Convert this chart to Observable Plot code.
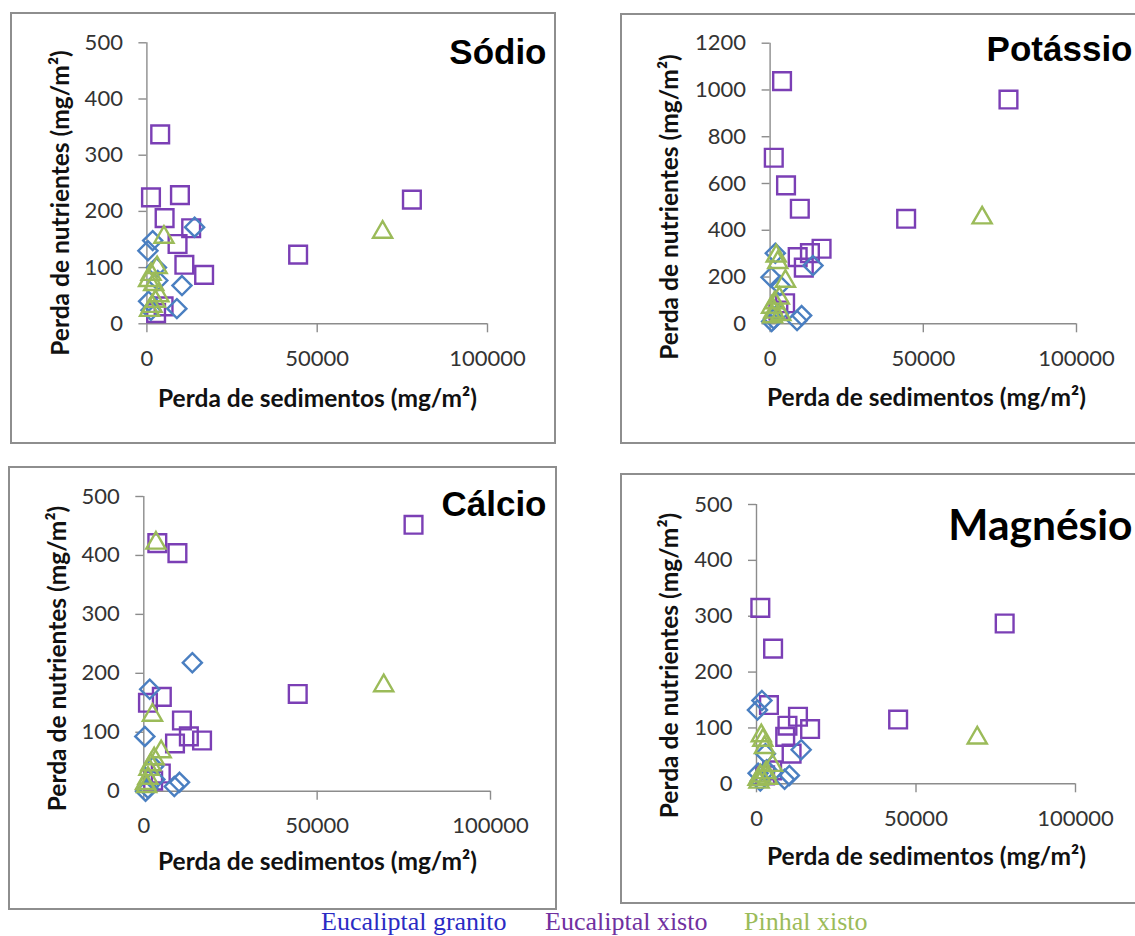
<!DOCTYPE html>
<html><head><meta charset="utf-8">
<script src="https://cdn.jsdelivr.net/npm/d3@7"></script>
<script src="https://cdn.jsdelivr.net/npm/@observablehq/plot@0.6"></script>
<style>
html,body{margin:0;padding:0;background:#fff;}
body{width:1135px;height:936px;overflow:hidden;position:relative;font-family:Lato,sans-serif}
.panel{position:absolute}
.panel svg{position:absolute;left:0;top:0;overflow:visible}
.frame{position:absolute;left:0;top:0;width:100%;height:100%;box-sizing:border-box;border:2px solid #8e8e8e;pointer-events:none}
.legend{position:absolute;font-family:"Liberation Serif","Times New Roman",serif;font-size:26px;line-height:26px;white-space:nowrap}
</style></head><body>
<script>
// ---- Data ----
const seriesNames = ["Eucaliptal granito", "Eucaliptal xisto", "Pinhal xisto"];
const seriesColors = ["#4a7fc1", "#7b3fb5", "#9bbb59"];
const legendColors = ["#2b2bc4", "#7030a0", "#9bbb59"];

// Sediment loss (mg/m²) per series
const sedGranito  = [300, 500, 1200, 1700, 2800, 3200, 8800, 10300, 14000];
const sedEucXisto = [1200, 2700, 3900, 4900, 5200, 9000, 9700, 11000, 13000, 16800, 44400, 77800];
const sedPinhal   = [500, 800, 1200, 1500, 2000, 2500, 3000, 3500, 5000, 69200];

// Nutrient loss (mg/m²)
const sodioGranito  = [130, 40, 24, 148, 100, 77, 27, 68, 172];
const sodioEucXisto = [225, 19, 337, 31, 188, 142, 229, 105, 170, 87, 123, 221];
const sodioPinhal   = [77, 24, 88, 31, 70, 40, 100, 50, 154, 163];

const potassioGranito  = [199, 10, 20, 302, 45, 164, 14, 35, 249];
const potassioEucXisto = [710, 57, 1038, 88, 592, 285, 492, 240, 302, 321, 449, 959];
const potassioPinhal   = [71, 30, 50, 90, 290, 262, 110, 40, 182, 453];

const calcioGranito  = [93, 0, 5, 173, 42, 20, 8, 15, 218];
const calcioEucXisto = [150, 18, 421, 30, 160, 81, 404, 120, 93, 86, 165, 452];
const calcioPinhal   = [13, 8, 22, 37, 45, 129, 55, 421, 67, 179];

const magnesioGranito  = [132, 19, 5, 149, 54, 25, 8, 15, 61];
const magnesioEucXisto = [315, 15, 141, 24, 242, 84, 104, 54, 120, 98, 115, 287];
const magnesioPinhal   = [8, 3, 14, 86, 78, 65, 20, 10, 33, 82];

const xTicks = [0, 50000, 100000];
const yTicks500 = [0, 100, 200, 300, 400, 500];
const yTicks1200 = [0, 200, 400, 600, 800, 1000, 1200];
const xLabel = "Perda de sedimentos (mg/m²)";
const yLabel = "Perda de nutrientes (mg/m²)";

// ---- Build ----
const axisColor = "#8c8c8c";
const tickColor = "#333333";
const zip = (xs, ys) => xs.map((x, i) => ({x, y: ys[i]}));

function panel(cfg) {
  const {left, top, width, height, axisX, x100, y0, yTop} = cfg;
  const mL = axisX - left, mR = left + width - x100, mT = yTop - top, mB = top + height - y0;
  const ox = axisX, oy = yTop;
  const [gr, ex, px] = cfg.values;
  const marks = [
    Plot.ruleX([0], {stroke: axisColor, strokeWidth: 1.4}),
    Plot.ruleY([0], {stroke: axisColor, strokeWidth: 1.4}),
    Plot.axisX({ticks: xTicks, tickFormat: d => String(d), tickSize: 9, tickPadding: 17.5,
      stroke: axisColor, strokeWidth: 1.4, fill: tickColor, label: null}),
    Plot.axisY({ticks: cfg.yTicks, tickFormat: d => String(d), tickSize: 8, tickPadding: 16,
      stroke: axisColor, strokeWidth: 1.4, fill: tickColor, label: null}),
    Plot.dot(zip(sedEucXisto, ex), {x: "x", y: "y", symbol: "square", r: 10, fill: "none", stroke: seriesColors[1], strokeWidth: 2.4}),
    Plot.dot(zip(sedGranito, gr), {x: "x", y: "y", symbol: "diamond2", r: 8.6, fill: "none", stroke: seriesColors[0], strokeWidth: 2.4}),
    Plot.dot(zip(sedPinhal, px), {x: "x", y: "y", symbol: "triangle", r: 7.1, fill: "none", stroke: seriesColors[2], strokeWidth: 2.4}),
    Plot.text([cfg.title.text], {text: d => d, frameAnchor: "top-left", dx: cfg.title.x - ox, dy: cfg.title.y - oy,
      textAnchor: cfg.title.anchor, lineAnchor: "bottom", fontFamily: cfg.title.font, fontSize: cfg.title.size,
      fontWeight: "bold", fill: "#000"}),
    Plot.text([xLabel], {text: d => d, frameAnchor: "top-left", dx: cfg.xt[0] - ox, dy: cfg.xt[1] - oy,
      textAnchor: "middle", lineAnchor: "bottom", fontFamily: "Lato", fontSize: 24.5, fontWeight: "bold", fill: "#111"}),
    Plot.text([yLabel], {text: d => d, frameAnchor: "top-left", dx: cfg.yt[0] - ox, dy: cfg.yt[1] - oy, rotate: -90,
      textAnchor: "middle", lineAnchor: "bottom", fontFamily: "Lato", fontSize: 24.5, fontWeight: "bold", fill: "#111"})
  ];
  const chart = Plot.plot({
    width, height, marginLeft: mL, marginRight: mR, marginTop: mT, marginBottom: mB,
    x: {domain: [0, 100000]}, y: {domain: [0, cfg.yMax]},
    style: {fontFamily: "Lato", fontSize: "22px", color: tickColor, background: "transparent", overflow: "visible"},
    marks
  });
  const div = document.createElement("div");
  div.className = "panel";
  Object.assign(div.style, {left: left + "px", top: top + "px", width: width + "px", height: height + "px"});
  div.appendChild(chart);
  const frame = document.createElement("div");
  frame.className = "frame";
  div.appendChild(frame);
  document.body.appendChild(div);
}

panel({left: 10, top: 12, width: 546, height: 432, axisX: 146.4, x100: 487, y0: 323.3, yTop: 42.3,
  yMax: 500, yTicks: yTicks500, values: [sodioGranito, sodioEucXisto, sodioPinhal],
  title: {text: "Sódio", x: 546, y: 63, anchor: "end", font: "Liberation Sans", size: 35},
  xt: [317, 406], yt: [69, 202.5]});
panel({left: 620, top: 13, width: 540, height: 431, axisX: 769.6, x100: 1076, y0: 323.3, yTop: 42.7,
  yMax: 1200, yTicks: yTicks1200, values: [potassioGranito, potassioEucXisto, potassioPinhal],
  title: {text: "Potássio", x: 1132, y: 60, anchor: "end", font: "Liberation Sans", size: 35},
  xt: [926, 405], yt: [677, 206.5]});
panel({left: 8, top: 466, width: 549, height: 444, axisX: 143.3, x100: 490, y0: 790.7, yTop: 496,
  yMax: 500, yTicks: yTicks500, values: [calcioGranito, calcioEucXisto, calcioPinhal],
  title: {text: "Cálcio", x: 546, y: 515, anchor: "end", font: "Liberation Sans", size: 35},
  xt: [317, 869], yt: [65, 658]});
panel({left: 620, top: 473, width: 540, height: 431, axisX: 756, x100: 1075, y0: 783.3, yTop: 504,
  yMax: 500, yTicks: yTicks500, values: [magnesioGranito, magnesioEucXisto, magnesioPinhal],
  title: {text: "Magnésio", x: 1132, y: 539, anchor: "end", font: "Lato", size: 42.5},
  xt: [926, 864], yt: [677, 665]});

// Legend
const legendX = [321, 545, 744];
seriesNames.forEach((name, i) => {
  const s = document.createElement("span");
  s.className = "legend";
  s.textContent = name;
  Object.assign(s.style, {left: legendX[i] + "px", top: "909px", color: legendColors[i]});
  document.body.appendChild(s);
});
</script></body></html>
